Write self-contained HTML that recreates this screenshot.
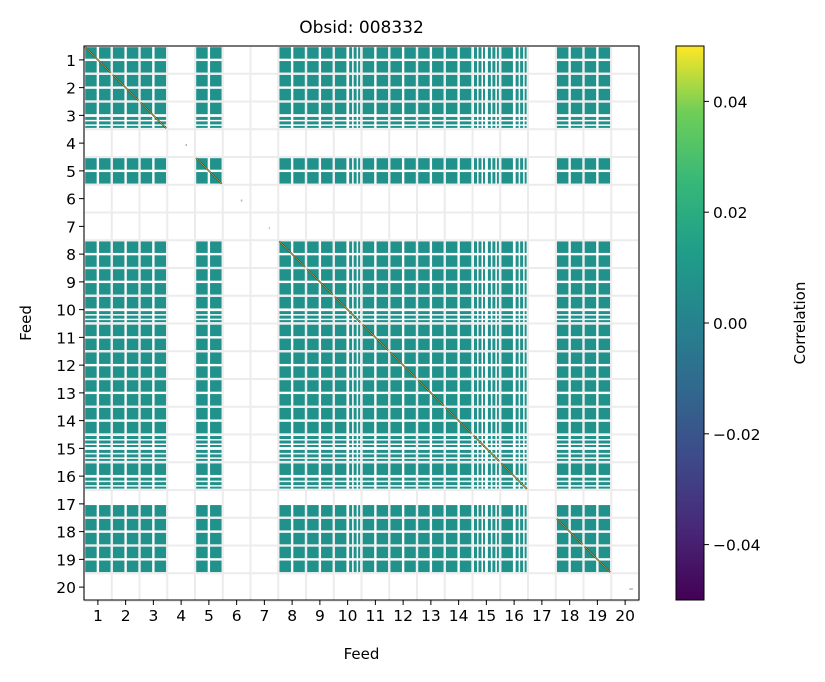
<!DOCTYPE html>
<html><head><meta charset="utf-8"><style>
body{margin:0;background:#fff;width:825px;height:678px;overflow:hidden;font-family:"DejaVu Sans","Liberation Sans",sans-serif}
</style></head><body>
<svg id="chart" width="825" height="678" xmlns="http://www.w3.org/2000/svg" font-family="DejaVu Sans, Liberation Sans, sans-serif">
<defs><linearGradient id="vir" x1="0" y1="1" x2="0" y2="0">
<stop offset="0" stop-color="#440154"/><stop offset="0.13" stop-color="#482878"/><stop offset="0.25" stop-color="#3e4989"/><stop offset="0.38" stop-color="#31688e"/><stop offset="0.5" stop-color="#26828e"/><stop offset="0.63" stop-color="#1f9e89"/><stop offset="0.75" stop-color="#35b779"/><stop offset="0.88" stop-color="#6ece58"/><stop offset="1" stop-color="#fde725"/></linearGradient></defs>
<g id="grid"></g><g id="cells"></g><g id="axes"></g><g id="cbar"></g>
</svg>
<script>
const feeds=[1,2,3,4,5,6,7,8,9,10,11,12,13,14,15,16,17,18,19,20];
// per-feed sub-band pattern: F=full, S=split thin, N=none
const rowPattern=[["F","F"],["F","F"],["F","S"],["N","N"],["F","F"],["N","N"],["N","N"],["F","F"],["F","F"],["F","S"],["F","F"],["F","F"],["F","F"],["F","F"],["S","S"],["F","S"],["N","F"],["F","F"],["F","F"],["N","N"]];
const colPattern=[["F","F"],["F","F"],["F","F"],["N","N"],["F","F"],["N","N"],["N","N"],["F","F"],["F","F"],["F","S"],["F","F"],["F","F"],["F","F"],["F","F"],["S","S"],["F","S"],["N","N"],["F","F"],["F","F"],["N","N"]];
const corrValue=0.0;
const cbTicks=[0.04,0.02,0.00,-0.02,-0.04];
const cbLabels=["0.04","0.02","0.00","\u22120.02","\u22120.04"];

const L=84,R=639,T=46,B=600,N=feeds.length;
const fw=(R-L)/N;
const xs=f=>L+(f-0.5)*fw, ys=f=>T+(f-0.5)*fw;
const NS="http://www.w3.org/2000/svg";
function mk(tag,at,parent){const e=document.createElementNS(NS,tag);for(const k in at)e.setAttribute(k,at[k]);parent.appendChild(e);return e;}
const grid=document.getElementById('grid'),cells=document.getElementById('cells'),axes=document.getElementById('axes'),cb=document.getElementById('cbar');
function viridis(v){return v>0.02?"#6ece58":v<-0.02?"#3e4989":"#21918c";}
for(let i=0;i<=N;i++){
 const l=mk('line',{x1:L+i*fw,x2:L+i*fw,y1:T,y2:B,stroke:'#ececec','stroke-width':2},grid);
 
 const m=mk('line',{x1:L,x2:R,y1:T+i*fw,y2:T+i*fw,stroke:'#ececec','stroke-width':2},grid);
 
}
const sub=fw/2, sq=11.5;
function spans(p,start){
 if(p==="F")return [[start+(sub-sq)/2,sq]];
 if(p==="S")return [[start+1.5,3],[start+6,3],[start+10.5,2]];
 return [];
}
const col=viridis(corrValue);
for(let r=0;r<N;r++)for(let c=0;c<N;c++){
 for(let a=0;a<2;a++)for(let b=0;b<2;b++){
  const ysp=spans(rowPattern[r][a],T+r*fw+a*sub), xsp=spans(colPattern[c][b],L+c*fw+b*sub);
  for(const [y0,h] of ysp)for(const [x0,w] of xsp){
   const e=mk('rect',{x:x0.toFixed(2),y:y0.toFixed(2),width:w,height:h,fill:col},cells);
   
  }
 }
}
feeds.forEach((f,i)=>{
 if(rowPattern[i][0]==="N"&&rowPattern[i][1]==="N"){
  const t=mk('text',{x:xs(f)+4,y:ys(f)+3,'font-size':3,fill:'#555'},cells);t.textContent=f;
  return;}
 if(colPattern[i][0]==="N"&&colPattern[i][1]==="N")return;
 const d=mk('line',{x1:L+i*fw+1,y1:T+i*fw+1,x2:L+(i+1)*fw-1,y2:T+(i+1)*fw-1,stroke:'#2c3e78','stroke-width':1.5},cells);
 
 const y=mk('line',{x1:L+i*fw+1,y1:T+i*fw+1,x2:L+(i+1)*fw-1,y2:T+(i+1)*fw-1,stroke:'#fde725','stroke-width':0.5},cells);
 
});
const fr=mk('rect',{x:L,y:T,width:R-L,height:B-T,fill:'none',stroke:'#000','stroke-width':1},axes);

feeds.forEach(f=>{
 mk('line',{x1:xs(f),x2:xs(f),y1:B,y2:B+5,stroke:'#000'},axes);
 const tx=mk('text',{x:xs(f),y:B+21,'font-size':15.5,'text-anchor':'middle'},axes);tx.textContent=f;
 
 mk('line',{x1:L-5,x2:L,y1:ys(f),y2:ys(f),stroke:'#000'},axes);
 const ty=mk('text',{x:L-8,y:ys(f)+6,'font-size':15.5,'text-anchor':'end'},axes);ty.textContent=f;
 
});
const tt=mk('text',{x:(L+R)/2,y:33,'font-size':17,'text-anchor':'middle'},axes);tt.textContent='Obsid: 008332';

const xl=mk('text',{x:(L+R)/2,y:659,'font-size':15,'text-anchor':'middle'},axes);xl.textContent='Feed';

const yl=mk('text',{x:0,y:0,'font-size':15,'text-anchor':'middle',transform:`translate(31,${(T+B)/2}) rotate(-90)`},axes);yl.textContent='Feed';

const CL=676,CW=28,vmax=0.05,vmin=-0.05;
const cy=v=>T+(vmax-v)/(vmax-vmin)*(B-T);
const cr=mk('rect',{x:CL,y:T,width:CW,height:B-T,fill:'url(#vir)',stroke:'#000','stroke-width':1},cb);

cbTicks.forEach((v,i)=>{
 mk('line',{x1:CL+CW,x2:CL+CW+5,y1:cy(v),y2:cy(v),stroke:'#000'},cb);
 const t=mk('text',{x:CL+CW+9,y:cy(v)+6,'font-size':15.5},cb);t.textContent=cbLabels[i];
 
});
const cl=mk('text',{x:0,y:0,'font-size':15,'text-anchor':'middle',transform:`translate(805,${(T+B)/2}) rotate(-90)`},cb);cl.textContent='Correlation';

</script>
</body></html>
